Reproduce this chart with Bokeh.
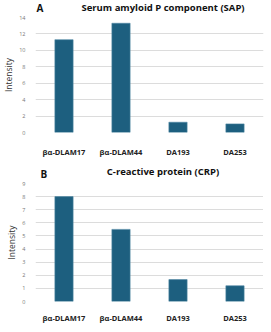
from bokeh.plotting import figure
from bokeh.models import Range1d, ColumnDataSource, FixedTicker, Label
from bokeh.layouts import column
from bokeh.embed import file_html
from bokeh.resources import INLINE

categories = ["βα-DLAM17", "βα-DLAM44", "DA193", "DA253"]
sap_values = [11.3, 13.3, 1.25, 1.05]
crp_values = [8.0, 5.5, 1.67, 1.2]
sap_ticks = [0, 2, 4, 6, 8, 10, 12, 14]
crp_ticks = [0, 1, 2, 3, 4, 5, 6, 7, 8, 9]

BAR = "#1d5f7f"
FONT = "Open Sans"
W = 255


def make_header(title, letter, height, title_y, letter_x, letter_y):
    h = figure(width=W, height=height, x_range=Range1d(0, 1), y_range=Range1d(0, 1),
               x_axis_type=None, y_axis_type=None, title=None,
               output_backend="svg", toolbar_location=None,
               min_border_left=0, min_border_right=0,
               min_border_top=0, min_border_bottom=0)
    h.outline_line_color = None
    h.grid.visible = False
    h.add_layout(Label(x=W / 2, y=title_y, x_units="screen", y_units="screen",
                       text=title, text_font=FONT, text_font_size="9.5px",
                       text_font_style="bold", text_color="#111111",
                       text_align="center", text_baseline="middle"))
    h.add_layout(Label(x=letter_x, y=letter_y, x_units="screen", y_units="screen",
                       text=letter, text_font=FONT, text_font_size="10px",
                       text_font_style="bold", text_color="#111111",
                       text_align="left", text_baseline="middle"))
    return h


def make_panel(values, ticks, top_border, frame_h, bottom_border, xstandoff):
    p = figure(x_range=categories, y_range=Range1d(0, ticks[-1]), title=None,
               frame_width=228, frame_height=frame_h, output_backend="svg",
               toolbar_location=None, min_border_left=24, min_border_right=3,
               min_border_top=top_border, min_border_bottom=bottom_border)
    src = ColumnDataSource(dict(cat=categories, val=values))
    p.vbar(x="cat", top="val", width=0.32, source=src,
           fill_color=BAR, line_color="#4f86a3", line_width=0.6)
    p.outline_line_color = None
    p.xgrid.grid_line_color = None
    p.ygrid.grid_line_color = "#dcdcdc"
    p.ygrid.grid_line_width = 1
    p.yaxis.ticker = FixedTicker(ticks=ticks)
    p.yaxis.axis_line_color = None
    p.yaxis.major_tick_line_color = None
    p.yaxis.minor_tick_line_color = None
    p.yaxis.major_label_text_font = FONT
    p.yaxis.major_label_text_font_size = "5.5px"
    p.yaxis.major_label_text_color = "#777777"
    p.yaxis.major_label_standoff = 4
    p.yaxis.axis_label = "Intensity"
    p.yaxis.axis_label_text_font = FONT
    p.yaxis.axis_label_text_font_size = "8.5px"
    p.yaxis.axis_label_text_font_style = "normal"
    p.yaxis.axis_label_text_color = "#333333"
    p.yaxis.axis_label_standoff = 2
    p.xaxis.axis_line_color = None
    p.xaxis.major_tick_line_color = None
    p.xaxis.minor_tick_line_color = None
    p.xaxis.major_label_text_font = FONT
    p.xaxis.major_label_text_font_size = "7.5px"
    p.xaxis.major_label_text_font_style = "bold"
    p.xaxis.major_label_text_color = "#222222"
    p.xaxis.major_label_standoff = xstandoff
    return p


ha = make_header("Serum amyloid P component (SAP)", "A", 14, 7, 1, 7)
pa = make_panel(sap_values, sap_ticks, 3, 115, 26, 8)
hb = make_header("C-reactive protein (CRP)", "B", 22, 10, 5, 8)
pb = make_panel(crp_values, crp_ticks, 2, 118, 16, 5)

layout = column(ha, pa, hb, pb, spacing=0)
open("out.html", "w").write(file_html(layout, INLINE))
